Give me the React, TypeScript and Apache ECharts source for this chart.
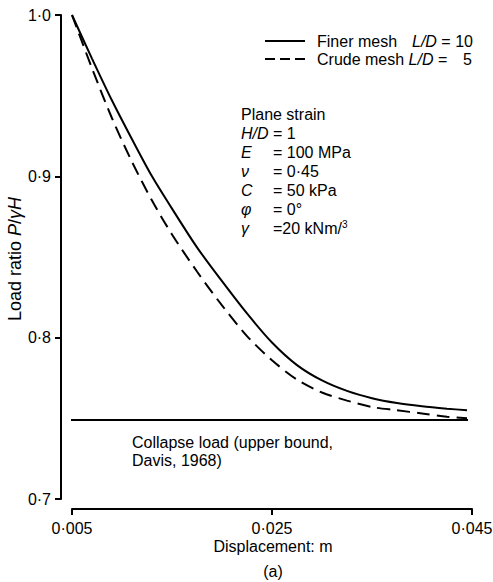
import React, { useEffect, useRef } from "react";
import * as echarts from "echarts";

// Data
const displacement = [0.005, 0.007, 0.009, 0.011, 0.013, 0.015, 0.0175, 0.02, 0.0225, 0.025, 0.0275, 0.03, 0.0325, 0.035, 0.0375, 0.04, 0.0425, 0.0445];
const finerMesh = [1.0, 0.973, 0.947, 0.923, 0.9, 0.88, 0.856, 0.835, 0.815, 0.797, 0.783, 0.7735, 0.767, 0.7625, 0.7595, 0.7575, 0.756, 0.755];
const crudeMesh = [1.0, 0.967, 0.936, 0.909, 0.885, 0.864, 0.841, 0.82, 0.801, 0.786, 0.774, 0.766, 0.761, 0.757, 0.755, 0.753, 0.751, 0.75];
const collapseLoad = 0.749;
const collapseRange = [0.0039, 0.0446];
const xTicks = { min: 0.005, max: 0.045, interval: 0.02 };
const yTicks = { min: 0.7, max: 1.0, interval: 0.1 };
const seriesNames = ["Finer mesh", "Crude mesh"];
const paramLines = [
  { sym: "E", val: "= 100 MPa" },
  { sym: "ν", val: "= 0·45" },
  { sym: "C", val: "= 50 kPa" },
  { sym: "φ", val: "= 0°" },
  { sym: "γ", val: "=20 kNm/{sup|3}" },
];

const FONT = "'Liberation Sans', Arial, Helvetica, sans-serif";

export default function App() {
  const ref = useRef<HTMLDivElement>(null);
  useEffect(() => {
    if (!ref.current) return;
    const chart = echarts.init(ref.current, undefined, { renderer: "svg" });
    const txt = (x: number, y: number, text: string, extra: any = {}) => ({
      type: "text",
      x,
      y,
      style: {
        text,
        fontFamily: FONT,
        fontSize: 16,
        fill: "#000",
        verticalAlign: "middle",
        rich: {
          i: { fontStyle: "italic", fontFamily: FONT, fontSize: 16, fill: "#000" },
          sup: { fontFamily: FONT, fontSize: 10, fill: "#000", verticalAlign: "top", padding: [0, 0, 8, 0] },
        },
        ...extra,
      },
    });
    const graphics: any[] = [
      // y-axis title
      {
        type: "text",
        x: 15,
        y: 259,
        rotation: Math.PI / 2,
        style: {
          text: "Load ratio {i|P}/{i|γH}",
          fontFamily: FONT,
          fontSize: 18,
          fill: "#000",
          align: "center",
          verticalAlign: "middle",
          rich: { i: { fontStyle: "italic", fontFamily: FONT, fontSize: 18, fill: "#000" } },
        },
      },
      txt(273, 546, "Displacement: m", { align: "center" }),
      txt(273, 571, "(a)", { align: "center" }),
      // legend
      { type: "line", shape: { x1: 265, y1: 41, x2: 305, y2: 41 }, style: { stroke: "#000", lineWidth: 2 } },
      { type: "line", shape: { x1: 265, y1: 59, x2: 305, y2: 59 }, style: { stroke: "#000", lineWidth: 2, lineDash: [10, 5] } },
      txt(317, 41, seriesNames[0]),
      txt(412, 41, "{i|L/D} = 10"),
      txt(317, 59, seriesNames[1] + " {i|L/D} ="),
      txt(463, 59, "5"),
      // parameters
      txt(241, 114, "Plane strain"),
      txt(241, 133, "{i|H/D}"),
      txt(273, 133, "= 1"),
      ...paramLines.flatMap((p, k) => [
        txt(241, 152 + 19 * k, "{i|" + p.sym + "}"),
        txt(273, 152 + 19 * k, p.val),
      ]),
      // collapse label
      txt(132, 442, "Collapse load (upper bound,"),
      txt(132, 460, "Davis, 1968)"),
    ];

    chart.setOption({
      animation: false,
      grid: { left: 72, right: 21, top: 15, bottom: 83, containLabel: false, outerBoundsMode: "none" },
      xAxis: {
        type: "value",
        min: xTicks.min,
        max: xTicks.max,
        interval: xTicks.interval,
        offset: 10,
        axisLine: { show: true, onZero: false, lineStyle: { color: "#000", width: 2 } },
        axisTick: { show: true, inside: false, length: 6, lineStyle: { color: "#000", width: 2 } },
        axisLabel: {
          margin: 11,
          color: "#000",
          fontFamily: FONT,
          fontSize: 16,
          formatter: (v: number) => v.toFixed(3).replace(".", "·"),
        },
        splitLine: { show: false },
      },
      yAxis: {
        type: "value",
        min: yTicks.min,
        max: yTicks.max,
        interval: yTicks.interval,
        offset: 11,
        axisLine: { show: true, lineStyle: { color: "#000", width: 2 } },
        axisTick: { show: true, inside: false, length: 6, lineStyle: { color: "#000", width: 2 } },
        axisLabel: {
          margin: 10,
          color: "#000",
          fontFamily: FONT,
          fontSize: 16,
          formatter: (v: number) => v.toFixed(1).replace(".", "·"),
        },
        splitLine: { show: false },
      },
      series: [
        {
          name: seriesNames[0],
          type: "line",
          data: displacement.map((x, i) => [x, finerMesh[i]]),
          showSymbol: false,
          smooth: 0.3,
          lineStyle: { color: "#000", width: 2, type: "solid" },
        },
        {
          name: seriesNames[1],
          type: "line",
          data: displacement.map((x, i) => [x, crudeMesh[i]]),
          showSymbol: false,
          smooth: 0.3,
          lineStyle: { color: "#000", width: 2, type: [13, 7] },
        },
        {
          name: "Collapse load",
          type: "line",
          clip: false,
          data: collapseRange.map((x) => [x, collapseLoad]),
          showSymbol: false,
          lineStyle: { color: "#000", width: 2 },
        },
      ],
      graphic: graphics,
    });
    return () => chart.dispose();
  }, []);
  return <div ref={ref} style={{ width: 493, height: 582, position: "absolute", left: 0, top: 0, background: "#fff" }} />;
}
